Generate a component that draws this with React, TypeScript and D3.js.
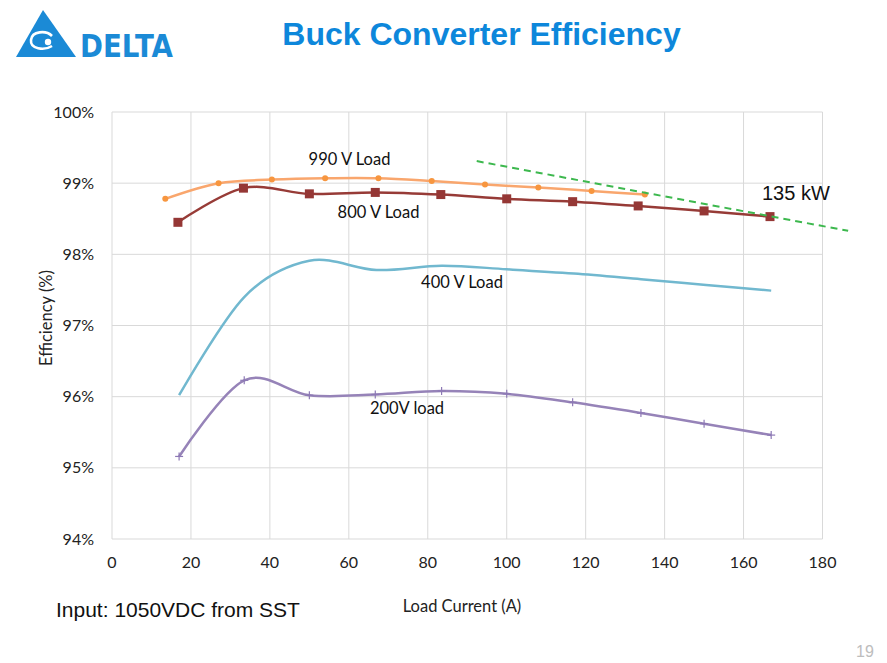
import React from "react";
import * as d3 from "d3";

const current990 = [13.5, 27, 40.5, 54, 67.5, 81, 94.5, 108, 121.5, 135];
const eff990 = [98.78, 99.0, 99.05, 99.07, 99.07, 99.03, 98.98, 98.94, 98.89, 98.84];

const current800 = [16.7, 33.3, 50, 66.7, 83.3, 100, 116.7, 133.3, 150, 166.7];
const eff800 = [98.45, 98.93, 98.85, 98.87, 98.84, 98.78, 98.74, 98.68, 98.61, 98.53];

const current400 = [17, 33.5, 50, 67, 83.5, 100, 117, 134, 150.5, 167];
const eff400 = [96.02, 97.4, 97.91, 97.78, 97.84, 97.79, 97.73, 97.65, 97.57, 97.49];

const current200 = [17, 33.5, 50, 66.7, 83.5, 100, 116.7, 134, 150, 167];
const eff200 = [95.16, 96.23, 96.02, 96.03, 96.08, 96.04, 95.92, 95.77, 95.62, 95.46];

const trendX = [92.4, 186.5];
const trendY = [99.31, 98.33];

const xTicks = [0, 20, 40, 60, 80, 100, 120, 140, 160, 180];
const yTicks = [94, 95, 96, 97, 98, 99, 100];

const W = 887;
const H = 663;

export default function App() {
  const x = d3.scaleLinear().domain([0, 180]).range([112, 822.5]);
  const y = d3.scaleLinear().domain([94, 100]).range([539, 112]);

  const line = d3
    .line<[number, number]>()
    .x((d) => x(d[0]))
    .y((d) => y(d[1]))
    .curve(d3.curveCardinal.tension(0));

  const zip = (a: number[], b: number[]) => a.map((v, i) => [v, b[i]] as [number, number]);
  const s990 = zip(current990, eff990);
  const s800 = zip(current800, eff800);
  const s400 = zip(current400, eff400);
  const s200 = zip(current200, eff200);

  const calibri = "Lato, 'Open Sans', sans-serif";
  const arial = "'Liberation Sans', Arial, sans-serif";
  const blue = "#0d87db";

  return (
    <svg
      width={W}
      height={H}
      viewBox={`0 0 ${W} ${H}`}
      style={{ position: "absolute", left: 0, top: 0, background: "#fff" }}
    >
      <rect x={0} y={0} width={W} height={H} fill="#fff" />
      {/* Logo */}
      <g>
        <polygon points="16,57 43,10 76,57" fill="#1b8ad6" />
        <path
          d="M52,36 C46,30 32,31 31,40 C30,49 44,51 52,46"
          fill="none"
          stroke="#fff"
          strokeWidth={2.6}
        />
        <circle cx={48} cy={42} r={3.2} fill="#fff" />
        <text
          x={80}
          y={57}
          fontFamily="'DejaVu Sans', sans-serif"
          fontWeight="bold"
          fontSize={32}
          fill="#1b8ad6"
          textLength={93}
          lengthAdjust="spacingAndGlyphs"
        >
          DELTA
        </text>
      </g>
      {/* Title */}
      <text
        x={481.5}
        y={45}
        textAnchor="middle"
        fontFamily={arial}
        fontWeight="bold"
        fontSize={32}
        fill={blue}
      >
        Buck Converter Efficiency
      </text>

      {/* Grid */}
      {xTicks.map((t) => (
        <line key={"gx" + t} x1={x(t)} x2={x(t)} y1={y(100)} y2={y(94)} stroke="#d9d9d9" strokeWidth={1} />
      ))}
      {yTicks.map((t) => (
        <line key={"gy" + t} x1={x(0)} x2={x(180)} y1={y(t)} y2={y(t)} stroke="#d9d9d9" strokeWidth={1} />
      ))}

      {/* Y ticks */}
      {yTicks.map((t) => (
        <text
          key={"ty" + t}
          x={94}
          y={y(t) + 5.5}
          textAnchor="end"
          fontFamily={calibri}
          fontSize={16}
          fill="#222"
        >
          {t + "%"}
        </text>
      ))}
      {/* X ticks */}
      {xTicks.map((t) => (
        <text
          key={"tx" + t}
          x={x(t)}
          y={568}
          textAnchor="middle"
          fontFamily={calibri}
          fontSize={16}
          fill="#222"
        >
          {t}
        </text>
      ))}

      {/* Axis titles */}
      <text
        transform={`translate(52,318) rotate(-90)`}
        textAnchor="middle"
        fontFamily={calibri}
        fontSize={16.5}
        fill="#222"
      >
        Efficiency (%)
      </text>
      <text x={462} y={612} textAnchor="middle" fontFamily={calibri} fontSize={16.5} fill="#222">
        Load Current (A)
      </text>

      {/* Series */}
      <path d={line(s400) || ""} fill="none" stroke="#71b8cf" strokeWidth={2.5} />
      <path d={line(s200) || ""} fill="none" stroke="#9683b8" strokeWidth={2.5} />
      {s200.map((d, i) => (
        <g key={"p2" + i} stroke="#8d79b5" strokeWidth={1.2}>
          <line x1={x(d[0]) - 4} x2={x(d[0]) + 4} y1={y(d[1])} y2={y(d[1])} />
          <line x1={x(d[0])} x2={x(d[0])} y1={y(d[1]) - 4} y2={y(d[1]) + 4} />
        </g>
      ))}
      <path d={line(s990) || ""} fill="none" stroke="#f9a66d" strokeWidth={2.5} />
      {s990.map((d, i) => (
        <circle key={"p9" + i} cx={x(d[0])} cy={y(d[1])} r={3} fill="#f7963f" />
      ))}
      <path d={line(s800) || ""} fill="none" stroke="#973b37" strokeWidth={2.5} />
      {s800.map((d, i) => (
        <rect key={"p8" + i} x={x(d[0]) - 4.5} y={y(d[1]) - 4.5} width={9} height={9} fill="#953735" />
      ))}

      {/* Trend dashed */}
      <line
        x1={x(trendX[0])}
        y1={y(trendY[0])}
        x2={x(trendX[1])}
        y2={y(trendY[1])}
        stroke="#3db84e"
        strokeWidth={2}
        strokeDasharray="7,5"
      />

      {/* Series labels */}
      <text x={349.5} y={165} textAnchor="middle" fontFamily={calibri} fontSize={16.5} fill="#111">
        990 V Load
      </text>
      <text x={378.5} y={218} textAnchor="middle" fontFamily={calibri} fontSize={16.5} fill="#111">
        800 V Load
      </text>
      <text x={462} y={288} textAnchor="middle" fontFamily={calibri} fontSize={16.5} fill="#111">
        400 V Load
      </text>
      <text x={407} y={414} textAnchor="middle" fontFamily={calibri} fontSize={16.5} fill="#111">
        200V load
      </text>
      <text x={762} y={200} fontFamily={arial} fontSize={20} fill="#111">
        135 kW
      </text>

      {/* Footer */}
      <text x={56} y={617} fontFamily={arial} fontSize={21} fill="#111">
        Input: 1050VDC from SST
      </text>
      <text x={865} y={657} textAnchor="middle" fontFamily={arial} fontSize={16} fill="#bdbdbd">
        19
      </text>
    </svg>
  );
}
